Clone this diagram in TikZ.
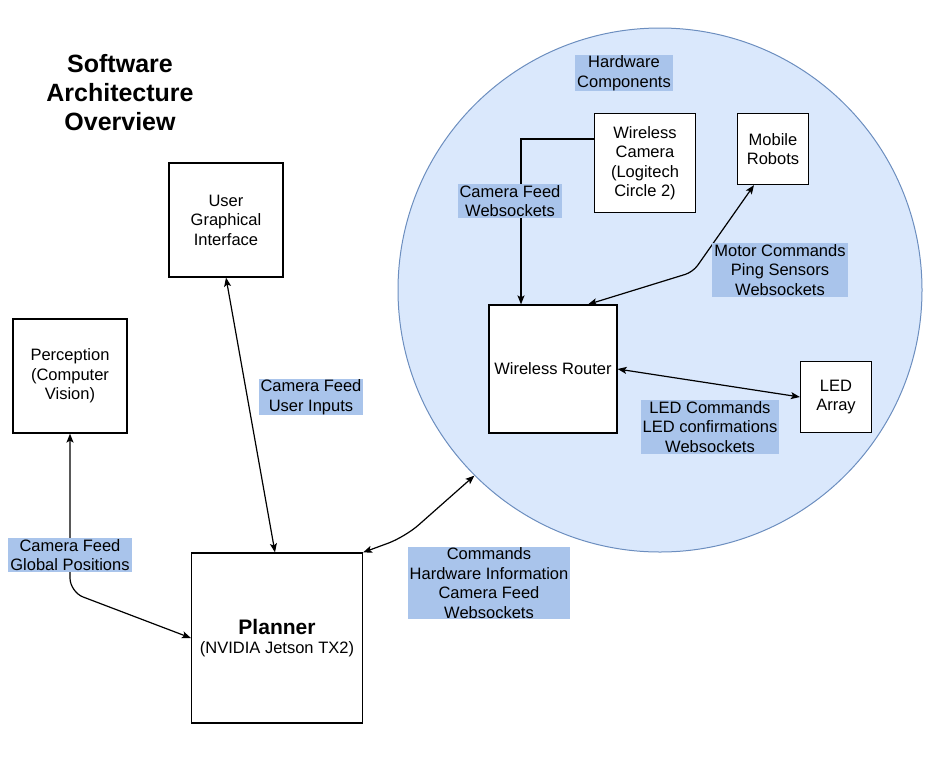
\documentclass[tikz,border=0pt]{standalone}
\usepackage{fontspec}
\setmainfont{Liberation Sans}
\usetikzlibrary{arrows.meta, positioning}

\definecolor{hwfill}{HTML}{DAE8FC}
\definecolor{hwdraw}{HTML}{6C8EBF}
\definecolor{lblfill}{HTML}{A9C4EB}

\begin{document}
\begin{tikzpicture}[
    x=1pt, y=-1pt,
    >={Stealth[length=9pt, width=7pt, inset=2pt]},
    box/.style={
        draw,
        rectangle,
        line width=1.2pt,
        fill=white,
        inner sep=0pt,
        align=center,
        font=\fontsize{16.5}{19.5}\selectfont
    },
    lbl/.style={
        fill=lblfill,
        inner xsep=2pt,
        inner ysep=1pt,
        align=center,
        font=\fontsize{16.5}{19.5}\selectfont
    },
    arrow/.style={<->, line width=1.2pt},
    arrowone/.style={->, line width=1.2pt}
]
\useasboundingbox (0,0) rectangle (940,761);

% hardware circle
\node[circle, draw=hwdraw, fill=hwfill, line width=1pt, minimum size=524pt, inner sep=0pt] (hw) at (660,290) {};

\node[align=center, font=\fontsize{25}{29}\selectfont\bfseries] (title) at (120,93) {Software\\Architecture\\Overview};

% boxes
\node[box, minimum width=114pt, minimum height=114pt] (gui) at (226,220) {User\\Graphical\\Interface};
\node[box, minimum width=114pt, minimum height=114pt] (perc) at (70,376) {Perception\\(Computer\\Vision)};
\node[box, minimum width=171pt, minimum height=170pt] (planner) at (277,638)
    {{\fontsize{21}{24}\selectfont\bfseries Planner}\\(NVIDIA Jetson TX2)};
\node[box, minimum width=101pt, minimum height=99pt] (cam) at (645,163) {Wireless\\Camera\\(Logitech\\Circle 2)};
\node[box, minimum width=71pt, minimum height=71pt] (robots) at (773,149) {Mobile\\Robots};
\node[box, minimum width=128pt, minimum height=128pt] (router) at (553,369) {Wireless Router};
\node[box, minimum width=71pt, minimum height=71pt] (led) at (836,397) {LED\\Array};

% connectors
\draw[arrowone] ([yshift=24pt]cam.west) -| ([xshift=-32pt]router.north);
\draw[arrow, rounded corners=8pt] ([xshift=35pt]router.north) -- (693,272) -- ([xshift=-19pt]robots.south);
\draw[arrow] (router.east) -- (led.west);
\draw[arrow] (gui.south) -- ([xshift=-2pt]planner.north);
\draw[arrow, rounded corners=14pt] (perc.south) -- (70,592) -- (planner.west);
\draw[arrow, rounded corners=18pt] (planner.north east) -- (405,537) -- (hw.225);

% labels
\node[lbl] (hwlbl) at (624,73) {Hardware\\Components};
\node[lbl] (camlbl) at (510,201) {Camera Feed\\Websockets};
\node[lbl] (motorlbl) at (780,270) {Motor Commands\\Ping Sensors\\Websockets};
\node[lbl] (ledlbl) at (710,427) {LED Commands\\LED confirmations\\Websockets};
\node[lbl] (cmdlbl) at (489,583) {Commands\\Hardware Information\\Camera Feed\\Websockets};
\node[lbl] (guilbl) at (311,397) {Camera Feed\\User Inputs};
\node[lbl] (perclbl) at (70,555) {Camera Feed\\Global Positions};

\end{tikzpicture}
\end{document}
